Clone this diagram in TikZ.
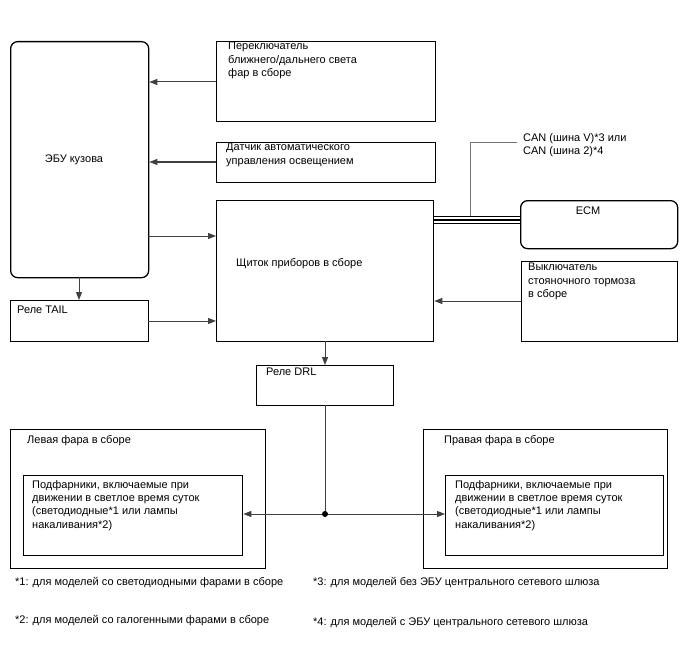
\documentclass[tikz,border=0pt]{standalone}
\usepackage{fontspec}
\setmainfont{Liberation Sans}
\usetikzlibrary{arrows.meta}
\begin{document}
\begin{tikzpicture}[x=1pt,y=-1pt,
  box/.style={draw=black, line width=1.3pt, anchor=north west, inner sep=0pt},
  rbox/.style={box, rounded corners=7pt},
  txt/.style={anchor=north west, inner sep=0pt, align=left, font=\fontsize{11}{13.4}\selectfont, text=black},
  ftxt/.style={txt},
  ctxt/.style={inner sep=0pt, font=\fontsize{11}{13.4}\selectfont, text=black},
  conn/.style={draw=black!75, line width=1pt},
  arr/.style={conn, -{Triangle[length=8pt,width=6pt]}},
  bus/.style={draw=black, line width=1.3pt}
]
\useasboundingbox[fill=white] (0,0) rectangle (688,658);

% boxes
\node[rbox, minimum width=138pt, minimum height=236pt] (ecu) at (10,41) {};
\node[box, minimum width=219pt, minimum height=80pt] (sw) at (216,41) {};
\node[box, minimum width=219pt, minimum height=40pt] (sens) at (216,142) {};
\node[box, minimum width=217pt, minimum height=141pt] (clus) at (216,200) {};
\node[box, minimum width=138pt, minimum height=41pt] (tail) at (10,300) {};
\node[rbox, minimum width=157pt, minimum height=48pt] (ecm) at (520,200) {};
\node[box, minimum width=156pt, minimum height=80pt] (brake) at (521,261) {};
\node[box, minimum width=137pt, minimum height=40pt] (drl) at (256,365) {};
\node[box, minimum width=255pt, minimum height=139pt] (lh) at (10,429) {};
\node[box, minimum width=219pt, minimum height=80pt] (lhin) at (23,475) {};
\node[box, minimum width=244pt, minimum height=139pt] (rh) at (423,429) {};
\node[box, minimum width=218pt, minimum height=80pt] (rhin) at (445,475) {};

% texts
\node[txt] (tsw) at (228,42) {Переключатель\\ближнего/дальнего света\\фар в сборе};
\node[ctxt] (tecu) at (74,160) {ЭБУ кузова};
\node[txt] (tsens) at (226,143) {Датчик автоматического\\управления освещением};
\node[txt] (tclus) at (236,258) {Щиток приборов в сборе};
\node[txt] (ttail) at (17,306) {Реле TAIL};
\node[txt] (tdrl) at (266,368) {Реле DRL};
\node[txt] (tcan) at (523,133) {CAN (шина V)*3 или\\CAN (шина 2)*4};
\node[ctxt] (tecm) at (588,211) {ECM};
\node[txt] (tbrake) at (528,263) {Выключатель\\стояночного тормоза\\в сборе};
\node[txt] (tlh) at (27,435) {Левая фара в сборе};
\node[txt] (tlhin) at (32,480) {Подфарники, включаемые при\\движении в светлое время суток\\(светодиодные*1 или лампы\\накаливания*2)};
\node[txt] (trh) at (444,435) {Правая фара в сборе};
\node[txt] (trhin) at (455,480) {Подфарники, включаемые при\\движении в светлое время суток\\(светодиодные*1 или лампы\\накаливания*2)};
\node[ftxt] (fn1) at (15,577) {*1: для моделей со светодиодными фарами в сборе};
\node[ftxt] (fn2) at (15,615) {*2: для моделей со галогенными фарами в сборе};
\node[ftxt] (fn3) at (313,577) {*3: для моделей без ЭБУ центрального сетевого шлюза};
\node[ftxt] (fn4) at (313,617) {*4: для моделей с ЭБУ центрального сетевого шлюза};

% connectors
\coordinate (c1) at (216,82);
\coordinate (c2) at (216,162);
\coordinate (c3) at (148,236);
\coordinate (c4) at (148,321);
\coordinate (c5) at (79,277);
\coordinate (c6) at (521,301);
\coordinate (c7) at (325,341);
\coordinate (c8) at (325,405);
\coordinate (jn) at (325,514);
\draw[arr] (c1) -- (c1 -| ecu.east);
\draw[arr] (c2) -- (c2 -| ecu.east);
\draw[arr] (c3) -- (c3 -| clus.west);
\draw[arr] (c4) -- (c4 -| clus.west);
\draw[arr] (c5) -- (c5 |- tail.north);
\draw[arr] (c6) -- (c6 -| clus.east);
\draw[arr] (c7) -- (c7 |- drl.north);
\draw[conn] (c8) -- (jn);
\draw[arr] (jn) -- (jn -| lhin.east);
\draw[arr] (jn) -- (jn -| rhin.west);
\fill[black] (jn) circle (3pt);

% CAN bus
\coordinate (b1) at (433,216.5);
\coordinate (b2) at (433,220);
\coordinate (b3) at (433,223.5);
\draw[bus] (b1) -- (b1 -| ecm.west);
\draw[bus] (b2) -- (b2 -| ecm.west);
\draw[bus] (b3) -- (b3 -| ecm.west);
\coordinate (g1) at (470,216);
\coordinate (g2) at (470,143);
\coordinate (g3) at (517,143);
\draw[draw=black!55, line width=1pt] (g1) -- (g2) -- (g3);
\end{tikzpicture}
\end{document}
